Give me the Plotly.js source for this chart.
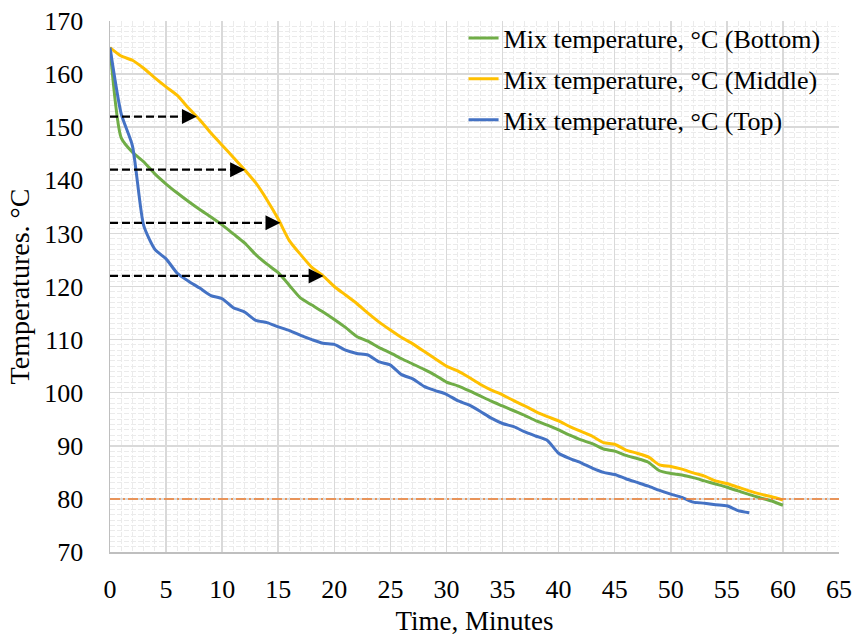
<!DOCTYPE html>
<html>
<head>
<meta charset="utf-8">
<script src="https://cdn.plot.ly/plotly-3.0.1.min.js"></script>
<style>html,body{margin:0;padding:0;background:#fff}#chart{width:854px;height:639px}</style>
</head>
<body>
<div id="chart"></div>
<script>
// Time in minutes
var timeBM = [];
for (var i = 0; i <= 60; i++) timeBM.push(i);
var timeTop = [];
for (var j = 0; j <= 57; j++) timeTop.push(j);

var bottomTemp = [165, 148, 145.3, 143.5, 141.2, 139.3, 137.6, 136, 134.5, 133.1, 131.6, 129.9, 128.2, 126.0, 124.2, 122.6, 120.2, 117.8, 116.5, 115.2, 113.8, 112.3, 110.6, 109.7, 108.5, 107.5, 106.4, 105.4, 104.4, 103.3, 102.0, 101.3, 100.4, 99.4, 98.4, 97.5, 96.6, 95.7, 94.7, 93.9, 93.0, 92.0, 91.1, 90.4, 89.4, 89.0, 88.2, 87.6, 86.9, 85.3, 84.8, 84.5, 84.0, 83.4, 82.8, 82.2, 81.5, 80.8, 80.2, 79.6, 78.8];
var middleTemp = [165, 163.4, 162.6, 161.1, 159.3, 157.6, 156.0, 153.6, 151.4, 148.9, 146.6, 144.3, 142.0, 139.5, 136.3, 132.7, 128.6, 126.0, 123.6, 122.0, 120.0, 118.4, 116.8, 115.0, 113.3, 111.8, 110.4, 109.2, 107.8, 106.4, 105.0, 104.1, 102.9, 101.6, 100.5, 99.6, 98.5, 97.5, 96.4, 95.5, 94.7, 93.6, 92.7, 91.8, 90.6, 90.3, 89.2, 88.6, 87.9, 86.4, 86.1, 85.6, 84.9, 84.3, 83.4, 82.9, 82.2, 81.5, 80.9, 80.4, 79.8];
var topTemp = [165, 152.5, 146.5, 131.5, 127, 125.2, 122.5, 121, 119.7, 118.3, 117.7, 116, 115.2, 113.6, 113.2, 112.4, 111.7, 110.8, 110, 109.3, 109.1, 108, 107.4, 107.1, 105.8, 105.2, 103.4, 102.6, 101.2, 100.4, 99.7, 98.5, 97.7, 96.5, 95.2, 94.2, 93.6, 92.6, 91.8, 91, 88.6, 87.6, 86.8, 85.8, 85, 84.6, 83.8, 83.1, 82.4, 81.6, 80.9, 80.3, 79.4, 79.2, 78.9, 78.7, 77.8, 77.4];

var seriesNames = ["Mix temperature, \u00B0C (Bottom)", "Mix temperature, \u00B0C (Middle)", "Mix temperature, \u00B0C (Top)"];
var seriesColors = ["#70AD47", "#FFC000", "#4472C4"];

// Arrow levels (°C) and the time where they reach the Middle curve
var arrowLevels = [152, 142, 132, 122];
var arrowEnds = [7.75, 12.05, 15.2, 19.05];
var thresholdTemp = 80;

var xTicks = [0, 5, 10, 15, 20, 25, 30, 35, 40, 45, 50, 55, 60, 65];
var yTicks = [70, 80, 90, 100, 110, 120, 130, 140, 150, 160, 170];

var FONT = "Liberation Serif, Times New Roman, serif";

function mk(x, y, k) {
  return {
    x: x, y: y, type: "scatter", mode: "lines", name: seriesNames[k],
    legendgroup: "g" + k,
    line: {color: seriesColors[k], width: 3, shape: "spline", smoothing: 0.6}
  };
}
var data = [mk(timeBM, bottomTemp, 0), mk(timeBM, middleTemp, 1), mk(timeTop, topTemp, 2)];

var shapes = [{
  type: "line", xref: "paper", yref: "y", x0: 0, x1: 1, y0: thresholdTemp, y1: thresholdTemp,
  line: {color: "#ED7D31", width: 1.5, dash: "10px,3px,2px,3px"}, layer: "above"
}];
var annotations = [];
for (var a = 0; a < arrowLevels.length; a++) {
  shapes.push({
    type: "line", xref: "x", yref: "y", x0: 0, x1: arrowEnds[a] - 0.8, y0: arrowLevels[a], y1: arrowLevels[a],
    line: {color: "#000", width: 2.2, dash: "8px,4px"}, layer: "above"
  });
  annotations.push({
    x: arrowEnds[a], y: arrowLevels[a], xref: "x", yref: "y",
    ax: -14, ay: 0, text: "", showarrow: true,
    arrowhead: 2, arrowsize: 1.5, arrowwidth: 2, arrowcolor: "#000", standoff: 0
  });
}

var gridMinor = {dtick: 1, showgrid: true, gridcolor: "#EBEBEB", gridwidth: 1, griddash: "5px,2px", ticks: ""};

var layout = {
  width: 854, height: 639,
  margin: {l: 110, r: 15, t: 21, b: 87},
  paper_bgcolor: "#fff", plot_bgcolor: "#fff",
  font: {family: FONT, size: 26, color: "#000"},
  showlegend: true,
  legend: {
    x: 0.485, y: 1.012, xanchor: "left", yanchor: "top",
    bgcolor: "rgba(0,0,0,0)", font: {family: FONT, size: 26, color: "#000"},
    tracegroupgap: 4, itemwidth: 30
  },
  xaxis: {
    range: [0, 65], tickvals: xTicks, ticktext: xTicks.map(String),
    showgrid: true, gridcolor: "#D9D9D9", gridwidth: 1.5,
    minor: gridMinor,
    showline: true, linecolor: "#BFBFBF", linewidth: 1.5,
    zeroline: false, ticks: "outside", ticklen: 13, tickcolor: "rgba(0,0,0,0)",
    tickfont: {family: FONT, size: 26, color: "#000"},
    title: {text: "Time, Minutes", font: {family: FONT, size: 27, color: "#000"}, standoff: 8}
  },
  yaxis: {
    range: [70, 170], tickvals: yTicks, ticktext: yTicks.map(String),
    showgrid: true, gridcolor: "#D9D9D9", gridwidth: 1.5,
    minor: gridMinor,
    showline: true, linecolor: "#BFBFBF", linewidth: 1.5,
    zeroline: false, ticks: "outside", ticklen: 20, tickcolor: "rgba(0,0,0,0)",
    tickfont: {family: FONT, size: 26, color: "#000"},
    title: {text: "Temperatures. \u00B0C", font: {family: FONT, size: 28, color: "#000"}, standoff: 6}
  },
  shapes: shapes,
  annotations: annotations
};

Plotly.newPlot("chart", data, layout, {displayModeBar: false, staticPlot: true});
</script>
</body>
</html>
